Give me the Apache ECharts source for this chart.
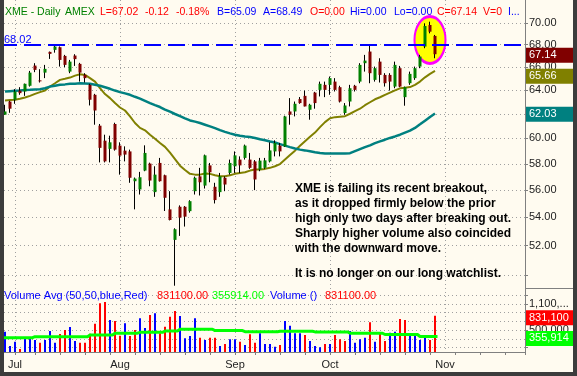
<!DOCTYPE html>
<html>
<head>
<meta charset="utf-8">
<script src="https://cdn.jsdelivr.net/npm/echarts@6/dist/echarts.min.js"></script>
<style>
html, body { margin: 0; padding: 0; background: #3c3c3c; }
#chart { position: absolute; left: 0; top: 0; width: 577px; height: 376px; }
.edge { position: absolute; background: #3c3c3c; z-index: 5; }
</style>
</head>
<body>
<div id="chart"></div>
<div class="edge" style="left:0;top:0;width:4px;height:376px"></div>
<div class="edge" style="left:0;top:372px;width:577px;height:4px"></div>
<div class="edge" style="left:573px;top:0;width:4px;height:376px"></div>
<script>
// trading days 2007 (first Jun slot is an empty edge slot, Oct 31 / Nov are empty space)
var junDays = [27, 28, 29];
var julDays = [2, 3, 5, 6, 9, 10, 11, 12, 13, 16, 17, 18, 19, 20, 23, 24, 25, 26, 27, 30, 31];
var augDays = [1, 2, 3, 6, 7, 8, 9, 10, 13, 14, 15, 16, 17, 20, 21, 22, 23, 24, 27, 28, 29, 30, 31];
var sepDays = [4, 5, 6, 7, 10, 11, 12, 13, 14, 17, 18, 19, 20, 21, 24, 25, 26, 27, 28];
var octDays = [1, 2, 3, 4, 5, 8, 9, 10, 11, 12, 15, 16, 17, 18, 19, 22, 23, 24, 25, 26, 29, 30, 31];
var novDays = [1, 2, 5, 6, 7, 8, 9, 12, 13, 14, 15, 16, 19, 20, 21, 23, 26];
var monthNames = ['Jan', 'Feb', 'Mar', 'Apr', 'May', 'Jun', 'Jul', 'Aug', 'Sep', 'Oct', 'Nov', 'Dec'];

// daily bars, Jun 28 .. Oct 30
var opens = [61.93, 63.03, 63.18, 63.96, 63.88, 64.37, 66.13, 64.84, 65.51, 67.35,
    67.53, 67.77, 66.99, 65.60, 67.02, 66.28, 65.31, 64.45, 63.60, 61.03,
    59.82, 59.17, 61.17, 59.43, 59.03, 58.97, 56.67, 56.05, 57.48, 58.02,
    55.85, 58.07, 57.12, 54.58, 52.40, 54.77, 54.77, 54.45, 55.92, 57.04,
    56.34, 57.88, 56.25, 55.85, 56.93, 57.30, 57.81, 58.33, 58.46, 58.33,
    58.19, 57.56, 57.69, 58.19, 58.97, 59.43, 59.37, 62.20, 62.20, 63.24,
    63.51, 62.34, 63.79, 64.02, 64.45, 64.45, 64.73, 64.25, 62.07, 63.03,
    64.37, 64.73, 66.34, 67.38, 64.88, 66.48, 65.31, 65.31, 64.30, 65.90,
    63.40, 64.59, 65.03, 66.04, 67.83, 69.81, 68.80];
var closes = [62.20, 62.43, 63.88, 63.74, 64.54, 65.51, 65.75, 64.75, 65.84, 67.17,
    67.83, 66.63, 66.19, 66.48, 66.70, 65.51, 65.03, 63.18, 62.28, 59.25,
    58.19, 59.69, 59.11, 58.64, 58.72, 56.93, 56.87, 56.97, 58.85, 56.72,
    57.17, 56.67, 55.43, 53.81, 53.15, 53.98, 54.05, 55.18, 56.93, 56.59,
    58.66, 57.35, 55.26, 57.04, 56.42, 58.07, 58.66, 57.88, 59.43, 57.69,
    56.80, 58.25, 58.27, 59.05, 59.64, 58.97, 61.79, 61.93, 62.84, 62.90,
    62.62, 62.76, 62.90, 64.54, 64.02, 65.03, 64.02, 63.03, 62.70, 64.16,
    64.02, 66.19, 66.57, 65.46, 65.90, 65.31, 64.59, 64.73, 66.19, 64.30,
    64.25, 65.40, 65.90, 66.93, 69.72, 69.19, 67.14];
var highs = [62.76, 63.09, 64.08, 64.25, 64.56, 65.66, 66.34, 65.81, 66.19, 67.38,
    67.98, 67.84, 67.08, 66.63, 67.14, 66.37, 65.46, 64.54, 63.68, 61.17,
    60.30, 60.22, 61.27, 59.69, 59.37, 59.11, 56.95, 57.38, 59.45, 58.09,
    57.81, 58.46, 57.17, 55.92, 53.22, 54.87, 54.82, 55.25, 57.02, 57.69,
    58.72, 58.07, 56.55, 57.30, 57.04, 58.33, 58.97, 58.58, 59.51, 58.85,
    58.29, 58.46, 58.46, 59.69, 59.85, 59.64, 61.85, 63.32, 63.03, 63.41,
    63.96, 62.84, 63.85, 64.73, 64.73, 65.17, 65.03, 64.37, 62.90, 64.45,
    64.45, 66.34, 67.08, 67.98, 66.04, 66.78, 65.46, 65.46, 66.48, 66.10,
    64.30, 65.60, 66.04, 67.08, 69.97, 70.12, 68.89];
var lows = [61.93, 62.09, 62.84, 63.60, 63.51, 64.30, 65.55, 64.65, 65.03, 66.72,
    67.28, 66.04, 65.99, 65.46, 66.10, 64.73, 64.65, 62.70, 61.11, 58.11,
    58.11, 58.11, 59.03, 57.17, 58.19, 56.55, 54.58, 55.67, 57.43, 56.29,
    55.50, 56.64, 54.46, 53.78, 49.29, 52.68, 53.34, 54.34, 55.67, 55.60,
    56.12, 56.59, 55.01, 55.50, 55.92, 57.17, 57.30, 57.30, 58.33, 57.61,
    56.00, 57.43, 57.61, 58.11, 58.58, 58.58, 59.33, 61.11, 61.79, 62.84,
    62.62, 61.52, 62.43, 63.46, 63.40, 63.60, 63.88, 62.95, 61.93, 62.62,
    63.88, 64.59, 65.60, 64.59, 64.73, 64.65, 64.30, 63.96, 64.16, 64.25,
    62.68, 64.45, 64.88, 65.90, 67.68, 69.04, 66.78];

// moving averages as drawn (20 day olive, 50 day teal)
var ma20 = [63.12, 63.15, 63.18, 63.26, 63.37, 63.51, 63.68, 63.83, 63.96, 64.31,
    64.59, 64.88, 64.97, 65.08, 65.25, 65.37, 65.31, 65.03, 64.73, 64.16,
    63.66, 63.32, 62.90, 62.53, 62.28, 61.79, 61.25, 60.85, 60.65, 60.30,
    59.98, 59.64, 59.33, 58.87, 58.37, 57.86, 57.52, 57.23, 57.17, 57.17,
    57.25, 57.23, 57.12, 57.04, 57.04, 57.12, 57.23, 57.30, 57.35, 57.48,
    57.56, 57.56, 57.61, 57.69, 57.81, 57.98, 58.33, 58.68, 59.03, 59.41,
    59.78, 60.14, 60.47, 60.91, 61.32, 61.64, 61.73, 61.77, 61.81, 62.01,
    62.22, 62.43, 62.72, 62.97, 63.22, 63.39, 63.60, 63.79, 63.98, 64.15,
    64.21, 64.26, 64.45, 64.73, 65.10, 65.40, 65.66];
var ma50 = [63.88, 63.91, 63.94, 63.96, 64.00, 64.02, 64.05, 64.08, 64.16, 64.30,
    64.38, 64.45, 64.49, 64.54, 64.55, 64.58, 64.56, 64.54, 64.45, 64.37,
    64.24, 64.11, 63.96, 63.83, 63.72, 63.60, 63.43, 63.28, 63.09, 62.90,
    62.73, 62.57, 62.36, 62.18, 61.99, 61.81, 61.63, 61.46, 61.36, 61.25,
    61.11, 60.97, 60.83, 60.67, 60.53, 60.41, 60.30, 60.22, 60.16, 60.12,
    60.04, 59.94, 59.86, 59.76, 59.67, 59.55, 59.43, 59.31, 59.20, 59.11,
    59.05, 58.98, 58.91, 58.85, 58.81, 58.80, 58.80, 58.80, 58.80, 58.83,
    58.99, 59.15, 59.31, 59.45, 59.63, 59.77, 59.90, 60.04, 60.16, 60.30,
    60.47, 60.63, 60.85, 61.14, 61.44, 61.74, 62.03];

// volume in thousands, 1 = up day (blue), 0 = down day (red)
var volumes = [465, 137, 236, 69, 297, 328, 275, 213, 275, 481,
    213, 412, 503, 572, 252, 213, 213, 420, 648, 1114,
    1144, 732, 709, 373, 656, 366, 503, 771, 549, 847,
    886, 428, 579, 808, 938, 824, 313, 366, 771, 328,
    275, 328, 328, 137, 183, 290, 290, 236, 160, 405,
    213, 428, 183, 183, 122, 160, 709, 602, 428, 428,
    389, 252, 137, 107, 183, 183, 389, 290, 252, 480,
    213, 290, 328, 680, 236, 442, 252, 442, 465, 755,
    732, 405, 389, 275, 328, 275, 831.1];
var volUp = [1, 1, 1, 0, 1, 1, 1, 0, 1, 1,
    1, 0, 0, 1, 1, 0, 0, 0, 0, 0,
    0, 1, 0, 0, 1, 0, 0, 1, 1, 0,
    1, 0, 0, 0, 0, 1, 1, 1, 1, 0,
    1, 0, 0, 1, 0, 1, 1, 0, 1, 0,
    0, 1, 1, 1, 1, 0, 1, 1, 1, 1,
    0, 1, 1, 1, 0, 1, 0, 0, 0, 1,
    1, 1, 1, 0, 1, 0, 0, 1, 1, 0,
    0, 1, 1, 1, 1, 0, 0];
var volAvg = [327, 327, 327, 327, 327, 327, 350, 350, 350, 350,
    350, 350, 350, 350, 350, 350, 350, 390, 390, 390,
    390, 390, 430, 430, 430, 430, 430, 450, 450, 450,
    450, 450, 480, 480, 480, 520, 520, 520, 520, 520,
    520, 520, 490, 490, 490, 490, 490, 490, 465, 465,
    465, 465, 465, 465, 465, 475, 475, 475, 475, 475,
    475, 475, 460, 460, 460, 460, 460, 460, 460, 430,
    430, 430, 430, 430, 430, 430, 400, 400, 400, 400,
    400, 400, 400, 356, 356, 356, 356];

var priceTicks = [50, 52, 54, 56, 58, 60, 62, 64, 66, 68, 70];
var priceLabels = [52, 54, 56, 58, 60, 62, 64, 66, 68, 70];
var volTicks = [100000, 300000, 500000, 700000, 900000, 1100000, 1300000];
var volLabels = [500000, 1100000];

var lastClose = 67.14, lastMa20 = 65.66, lastMa50 = 62.03;
var lastVol = 831100, lastVolAvg = 355914;
var priorHigh = 68.02;
var highlightDay = '10/29', highlightPrice = 68.43;

var headerText = ['XME - Daily', 'AMEX', 'L=67.02', '-0.12', '-0.18%', 'B=65.09', 'A=68.49',
    'O=0.00', 'Hi=0.00', 'Lo=0.00', 'C=67.14', 'V=0', 'I...'];
var volHeaderText = ['Volume Avg (50,50,blue,Red)', '831100.00', '355914.00', 'Volume ()', '831100.00'];
var noteText = 'XME is failing its recent breakout,\nas it dropped firmly below the prior\nhigh only two days after breaking out.\nSharply higher volume also coincided\nwith the downward move.';
var noteTail = 'It is no longer on our long watchlist.';

// ---- build categories
var dates = [];
[[6, junDays], [7, julDays], [8, augDays], [9, sepDays], [10, octDays], [11, novDays]].forEach(function (m) {
    m[1].forEach(function (d) { dates.push(m[0] + '/' + d); });
});
function monthOf(s) { return +s.split('/')[0]; }
function weekDay(s) {
    var p = s.split('/');
    return new Date(2007, p[0] - 1, +p[1]).getDay();
}
function isMonthStart(i) { return i > 0 && monthOf(dates[i]) !== monthOf(dates[i - 1]); }
function isWeekStart(i) { return i > 0 && weekDay(dates[i]) < weekDay(dates[i - 1]); }

function pad(arr) {
    var out = ['-'];
    arr.forEach(function (v) { out.push(v); });
    while (out.length < dates.length) out.push('-');
    return out;
}
var L = Math.log;

var wickData = pad(opens.map(function (o, i) { return [L(o), L(closes[i]), L(lows[i]), L(highs[i])]; }));
var bodyData = pad(opens.map(function (o, i) {
    var c = closes[i];
    return [L(o), L(c), L(Math.min(o, c)), L(Math.max(o, c))];
}));
var volData = pad(volumes.map(function (v, i) {
    return { value: v * 1000, itemStyle: { color: volUp[i] ? '#0000ff' : '#ff0000' } };
}));
var volAvgData = pad(volAvg.map(function (v) { return v * 1000; }));

function commas(v) { return String(v).replace(/\B(?=(\d{3})+(?!\d))/g, ','); }

var FONT = 'Liberation Sans';
var dotted = { color: '#a0a0a0', type: [1, 3], width: 1 };

// value box on the right axis
function box(value, text, bg, dy) {
    return {
        yAxis: value, lineStyle: { color: 'rgba(0,0,0,0)' },
        label: {
            show: true, position: 'end', distance: 1, formatter: text,
            color: '#fff', fontSize: 11, fontFamily: FONT, lineHeight: 13,
            backgroundColor: bg, padding: [1, 3, 1, 3], width: 42, offset: [0, dy]
        }
    };
}

var chart = echarts.init(document.getElementById('chart'));

var headerX = [5, 65, 100, 145, 176, 217, 263, 310, 350, 394, 437, 483, 508];
var headerColors = ['#008000', '#008000', '#ff0000', '#ff0000', '#ff0000', '#0000ff', '#0000ff',
    '#ff0000', '#0000ff', '#0000ff', '#ff0000', '#ff0000', '#0000ff'];
var volHeaderX = [4, 157, 212, 270, 325];
var volHeaderColors = ['#0000ff', '#ff0000', '#00ff00', '#0000ff', '#ff0000'];

var graphics = [];
headerText.forEach(function (t, i) {
    graphics.push({ type: 'text', left: headerX[i], top: 7, z: 10,
        style: { text: t, fill: headerColors[i], fontSize: 10.5, fontFamily: FONT } });
});
volHeaderText.forEach(function (t, i) {
    graphics.push({ type: 'text', left: volHeaderX[i], top: 290, z: 10,
        style: { text: t, fill: volHeaderColors[i], fontSize: 11, fontFamily: FONT } });
});
graphics.push({ type: 'text', left: 295, top: 181, z: 10,
    style: { text: noteText, fill: '#000', fontSize: 12, fontWeight: 'bold', fontFamily: FONT, lineHeight: 15 } });
graphics.push({ type: 'text', left: 295, top: 266, z: 10,
    style: { text: noteTail, fill: '#000', fontSize: 12, fontWeight: 'bold', fontFamily: FONT, lineHeight: 15 } });
graphics.push({ type: 'line', z: 10, shape: { x1: 525, y1: 288.5, x2: 573, y2: 288.5 },
    style: { stroke: '#808080', lineWidth: 1 } });

var option = {
    animation: false,
    backgroundColor: '#fffbf0',
    textStyle: { fontFamily: FONT },
    grid: [
        { left: 0, right: 52, top: 0, height: 288 },
        { left: 0, right: 52, top: 288, height: 64 }
    ],
    xAxis: [
        {
            type: 'category', gridIndex: 0, data: dates, boundaryGap: false,
            axisLine: { show: false }, axisTick: { show: false }, axisLabel: { show: false },
            splitLine: { show: true, interval: function (i) { return isMonthStart(i); }, lineStyle: dotted }
        },
        {
            type: 'category', gridIndex: 1, data: dates, boundaryGap: false,
            axisLine: { show: true, lineStyle: { color: '#808080' } },
            axisTick: { show: true, length: 3, interval: function (i) { return isWeekStart(i); }, lineStyle: { color: '#808080' } },
            axisLabel: {
                interval: function (i) { return isMonthStart(i); },
                formatter: function (v) { return monthNames[monthOf(v) - 1]; },
                color: '#222', fontSize: 11, margin: 7
            },
            splitLine: { show: true, interval: function (i) { return isMonthStart(i); }, lineStyle: dotted }
        }
    ],
    yAxis: [
        {
            type: 'value', gridIndex: 0, position: 'right',
            min: L(49.14), max: L(72.18),
            axisLine: { show: true, lineStyle: { color: '#808080' } },
            axisTick: { show: true, length: 3, customValues: priceTicks.map(L), lineStyle: { color: '#808080' } },
            axisLabel: {
                customValues: priceLabels.map(L),
                formatter: function (v) { return Math.exp(v).toFixed(2); },
                color: '#222', fontSize: 11, margin: 4
            },
            splitLine: { show: true, lineStyle: dotted }
        },
        {
            type: 'value', gridIndex: 1, position: 'right', min: 0, max: 1464500,
            axisLine: { show: true, lineStyle: { color: '#808080' } },
            axisTick: { show: true, length: 3, customValues: volTicks, lineStyle: { color: '#808080' } },
            axisLabel: {
                customValues: volLabels, formatter: function (v) { return commas(v); },
                width: 44, overflow: 'truncate', ellipsis: '...',
                color: '#222', fontSize: 11, margin: 4
            },
            splitLine: { show: true, lineStyle: dotted }
        }
    ],
    series: [
        {
            name: 'highlight', type: 'scatter', xAxisIndex: 0, yAxisIndex: 0, z: 1, silent: true,
            data: [[highlightDay, L(highlightPrice)]],
            symbol: 'circle', symbolSize: [31, 47],
            itemStyle: { color: '#ffff00', borderColor: '#ff00ff', borderWidth: 2.5, opacity: 1 }
        },
        {
            name: 'MA20', type: 'line', xAxisIndex: 0, yAxisIndex: 0, z: 2,
            data: pad(ma20.map(L)), symbol: 'none',
            lineStyle: { color: '#808000', width: 2 },
            markLine: { silent: true, symbol: ['none', 'none'], data: [box(L(lastMa20), '65.66', '#808000', 2)] }
        },
        {
            name: 'MA50', type: 'line', xAxisIndex: 0, yAxisIndex: 0, z: 2,
            data: pad(ma50.map(L)), symbol: 'none',
            lineStyle: { color: '#008080', width: 2.5 },
            markLine: {
                silent: true, symbol: ['none', 'none'],
                data: [
                    box(L(lastMa50), '62.03', '#008080', 2.5),
                    {
                        yAxis: L(priorHigh),
                        lineStyle: { color: '#0000ff', width: 2, type: [17, 7] },
                        label: { show: true, position: 'insideStartTop', distance: 0, offset: [4, 1], formatter: '68.02',
                            color: '#0000ff', fontSize: 11, fontFamily: FONT }
                    }
                ]
            }
        },
        {
            name: 'wick', type: 'candlestick', xAxisIndex: 0, yAxisIndex: 0, z: 3,
            data: wickData, barWidth: 1,
            itemStyle: { color: '#000', color0: '#000', borderColor: '#000', borderColor0: '#000', borderColorDoji: '#000', borderWidth: 1 }
        },
        {
            name: 'XME', type: 'candlestick', xAxisIndex: 0, yAxisIndex: 0, z: 4,
            data: bodyData, barWidth: 3,
            itemStyle: { color: '#008000', color0: '#800000', borderColor: '#008000', borderColor0: '#800000', borderWidth: 0 },
            markLine: { silent: true, symbol: ['none', 'none'], data: [box(L(lastClose), '67.14', '#800000', 3.5)] }
        },
        {
            name: 'Volume', type: 'bar', xAxisIndex: 1, yAxisIndex: 1, z: 2,
            data: volData, barWidth: 2,
            markLine: { silent: true, symbol: ['none', 'none'], data: [box(lastVol, '831,100', '#ff0000', 2)] }
        },
        {
            name: 'Volume Avg', type: 'line', xAxisIndex: 1, yAxisIndex: 1, z: 3,
            data: volAvgData, symbol: 'none', step: 'middle',
            lineStyle: { color: '#00ff00', width: 3 },
            markLine: { silent: true, symbol: ['none', 'none'], data: [box(lastVolAvg, '355,914', '#00ff00', 2)] }
        }
    ],
    graphic: graphics
};
chart.setOption(option);
</script>
</body>
</html>
